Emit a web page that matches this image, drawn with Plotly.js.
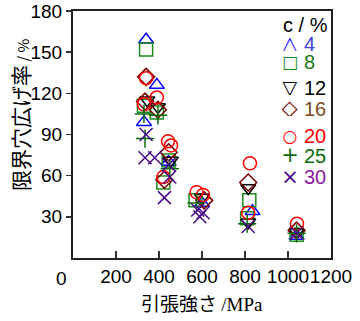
<!DOCTYPE html>
<html><head><meta charset="utf-8">
<script src="https://cdn.plot.ly/plotly-3.0.1.min.js"></script>
<style>html,body{margin:0;padding:0;background:#fff}</style>
</head><body><div id="chart" style="width:360px;height:321px"></div>
<script>
// c = 4 %
const x4 = [340, 390, 330, 445, 600, 835, 1040];
const y4 = [159, 126, 99, 70, 40, 34, 16];
// c = 8 %
const x8 = [340, 330, 390, 445, 420, 570, 820, 810, 1040];
const y8 = [152, 111, 106, 71, 55, 42, 42, 29, 17];
// c = 12 %
const x12 = [345, 395, 455, 600, 815, 815, 1040];
const y12 = [115, 110, 71, 44, 51, 26, 19];
// c = 16 %
const x16 = [340, 335, 395, 445, 425, 610, 815, 1040];
const y16 = [132, 114, 108, 77, 57, 42, 55, 20];
// c = 20 %
const x20 = [340, 330, 390, 442, 456, 420, 575, 605, 823, 815, 1042];
const y20 = [131, 112, 117, 85, 82, 59, 48, 46, 69, 33, 25];
// c = 25 %
const x25 = [335, 330, 395, 450, 575, 810, 1040];
const y25 = [87, 105, 104, 65, 40, 25, 18];
// c = 30 %
const x30 = [340, 335, 380, 445, 425, 450, 580, 605, 590, 815, 1040];
const y30 = [90, 73, 73, 68, 44, 59, 35, 33, 30, 23, 18];

const seriesLabels = ['4', '8', '12', '16', '20', '25', '30'];
const xTickVals = [200, 400, 600, 800, 1000, 1200];
const yTickVals = [30, 60, 90, 120, 150, 180];

const seriesX = [x4, x8, x12, x16, x20, x25, x30];
const seriesY = [y4, y8, y12, y16, y20, y25, y30];
const symbols = ['triangle-up-open', 'square-open', 'triangle-down-open', 'diamond-open', 'circle-open', 'cross-thin-open', 'x-thin-open'];
const glyphs = ['△', '□', '▽', '◇', '○', '+', '×'];
const glyphSizes = [19, 17, 19, 21, 17, 21, 21];
const markerColors = ['#0000ff', '#1a8a1a', '#000000', '#7a0000', '#ff0000', '#0a6a0a', '#4b0a8a'];
const labelColors = ['#4040e0', '#1a7a1a', '#000000', '#7a4a1a', '#ff0000', '#0a6a0a', '#8a1aa0'];

const traces = seriesLabels.map((lab, i) => ({
  type: 'scatter', mode: 'markers',
  x: seriesX[i], y: seriesY[i],
  name: lab, showlegend: false,
  marker: {symbol: symbols[i], size: 13, color: markerColors[i],
           line: {width: 1.5, color: markerColors[i]}},
  cliponaxis: false
}));

// legend layout (paper coordinates)
const legRowY = [0.870, 0.794, 0.692, 0.607, 0.494, 0.417, 0.328];
const annotations = [
  {text: '0', xref: 'paper', yref: 'paper', x: -0.043, y: -0.081,
   xanchor: 'center', yanchor: 'middle', showarrow: false, font: {size: 19}},
  {text: '引張強さ <span style="font-family:Liberation Serif">/MPa</span>',
   xref: 'paper', yref: 'paper', x: 0.5, y: -0.182, xanchor: 'center', yanchor: 'middle',
   showarrow: false, font: {family: 'Noto Sans CJK JP', size: 19}},
  {text: '限界穴広げ率<span style="font-size:15px"> / %</span>',
   xref: 'paper', yref: 'paper', x: -0.205, y: 0.579, xanchor: 'center', yanchor: 'middle',
   textangle: -90, showarrow: false, font: {family: 'Noto Sans CJK JP', size: 21}},
  {text: 'c / %', xref: 'paper', yref: 'paper', x: 0.996, y: 0.947, height: 17,
   xanchor: 'right', yanchor: 'middle', showarrow: false, font: {size: 20}}
];
seriesLabels.forEach((lab, i) => {
  annotations.push({text: glyphs[i], xref: 'paper', yref: 'paper', x: 0.841, y: legRowY[i],
    height: 16, width: 16,
    xanchor: 'center', yanchor: 'middle', showarrow: false,
    font: {family: 'DejaVu Sans', size: glyphSizes[i], color: markerColors[i]}});
  annotations.push({text: lab, xref: 'paper', yref: 'paper', x: 0.888, y: legRowY[i],
    height: 17,
    xanchor: 'left', yanchor: 'middle', showarrow: false,
    font: {size: 20, color: labelColors[i]}});
});

const layout = {
  width: 360, height: 321,
  margin: {l: 73, r: 29, t: 11, b: 63},
  paper_bgcolor: '#fff', plot_bgcolor: '#fff',
  font: {family: 'Liberation Sans, Arial, sans-serif', size: 19, color: '#000'},
  showlegend: false,
  xaxis: {range: [0, 1200], tickvals: xTickVals, tickangle: 0,
          ticks: 'inside', ticklen: 7, tickwidth: 1.5, tickcolor: '#333',
          showline: true, linecolor: '#222', linewidth: 2, mirror: true,
          showgrid: false, zeroline: false,
          tickfont: {size: 19}},
  yaxis: {range: [0, 180], tickvals: yTickVals,
          ticks: 'outside', ticklen: 5, tickwidth: 1.5, tickcolor: '#333',
          showline: true, linecolor: '#222', linewidth: 2, mirror: true,
          showgrid: false, zeroline: false,
          tickfont: {size: 19}},
  annotations: annotations
};

Plotly.newPlot('chart', traces, layout, {displayModeBar: false, staticPlot: true});
</script></body></html>
